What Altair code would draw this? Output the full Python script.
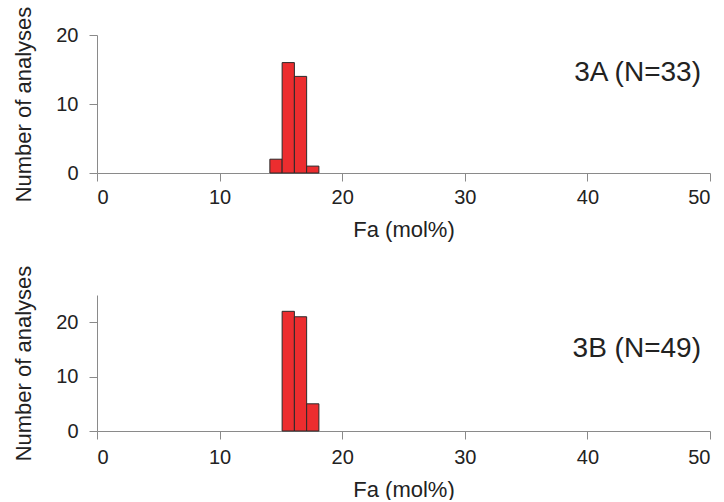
import altair as alt
import pandas as pd

# Histogram bins (Fa mol%)
bin_start = [14.1, 15.1, 16.1, 17.1]
bin_end = [15.1, 16.1, 17.1, 18.1]
counts_3a = [2, 16, 14, 1]
counts_3b = [0, 22, 21, 5]
labels = ["3A (N=33)", "3B (N=49)"]
y_max = [20, 25]

FONT = "Liberation Sans"
BAR_FILL = "#EC2D2F"
AXIS_GREY = "#8a8a8a"


def panel(counts, label, ymax, height, label_y, lab_pad):
    df = pd.DataFrame({"start": bin_start, "end": bin_end, "count": counts})
    df = df[df["count"] > 0]
    x = alt.X("start:Q", title="Fa (mol%)",
              scale=alt.Scale(domain=[0, 50], nice=False),
              axis=alt.Axis(values=[0, 10, 20, 30, 40, 50], grid=False,
                            domainColor=AXIS_GREY, tickColor=AXIS_GREY,
                            tickSize=8, labelPadding=lab_pad, titlePadding=12,
                            labelFontSize=20, titleFontSize=22))
    y = alt.Y("count:Q", title="Number of analyses",
              scale=alt.Scale(domain=[0, ymax], nice=False),
              axis=alt.Axis(values=[0, 10, 20], grid=False,
                            domainColor=AXIS_GREY, tickColor=AXIS_GREY,
                            tickSize=8, labelPadding=11, titlePadding=20,
                            labelFontSize=20, titleFontSize=22))
    bars = alt.Chart(df).mark_bar(fill=BAR_FILL, stroke="#2a2a2a",
                                  strokeWidth=1).encode(
        x=x, x2="end:Q", y=y, y2=alt.datum(0)
    )
    tdf = pd.DataFrame({"label": [label]})
    text = alt.Chart(tdf).mark_text(align="right", baseline="middle",
                                    font=FONT, fontSize=28,
                                    color="#222222").encode(
        x=alt.value(604), y=alt.value(label_y),
        text="label:N"
    )
    return (bars + text).properties(width=613, height=height)


top = panel(counts_3a, labels[0], y_max[0], 138, 38, 6)
bottom = panel(counts_3b, labels[1], y_max[1], 136, 54, 8)

chart = alt.vconcat(top, bottom, spacing=25).configure_view(
    stroke=None
).configure_axis(
    labelFont=FONT, titleFont=FONT, labelColor="#222222",
    titleColor="#222222", titleFontWeight="normal"
).properties(padding={"left": 12, "top": 6, "right": 0, "bottom": 0})

chart.save("out.html", embed_options={"renderer": "svg", "actions": False})
